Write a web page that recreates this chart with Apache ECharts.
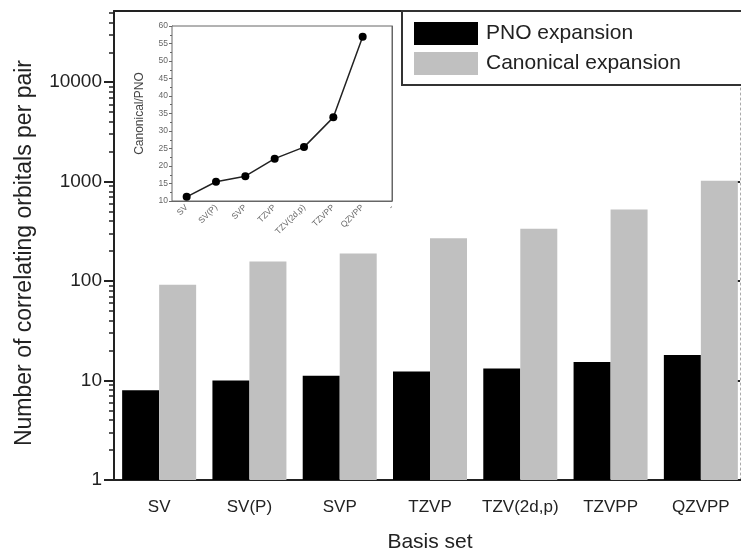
<!DOCTYPE html>
<html>
<head>
<meta charset="utf-8">
<script src="https://cdn.jsdelivr.net/npm/echarts@6/dist/echarts.min.js"></script>
<style>
html,body{margin:0;padding:0;background:#fff;}
#chart{width:741px;height:552px;}
</style>
</head>
<body>
<div id="chart"></div>
<script>
const categories = ['SV', 'SV(P)', 'SVP', 'TZVP', 'TZV(2d,p)', 'TZVPP', 'QZVPP'];
const pnoValues = [8, 10, 11.2, 12.3, 13.2, 15.4, 18.1];
const canonicalValues = [92, 157, 190, 269, 337, 524, 1020];
const ratioValues = [11.2, 15.5, 17.1, 22.1, 25.4, 33.9, 56.9];
const insetLabels = ['SV', 'SV(P)', 'SVP', 'TZVP', 'TZV(2d,p)', 'TZVPP', 'QZVPP', '-'];
const majorTicks = [1, 10, 100, 1000, 10000];
const minorTicks = [2, 3, 4, 5, 6, 7, 8, 9, 20, 30, 40, 50, 60, 70, 80, 90,
  200, 300, 400, 500, 600, 700, 800, 900, 2000, 3000, 4000, 5000, 6000, 7000, 8000, 9000,
  20000, 30000, 40000, 50000];

const FONT = 'Liberation Sans';
const AX = '#222';
const IN = '#666';

const chart = echarts.init(document.getElementById('chart'), null, {renderer: 'canvas'});

const option = {
  animation: false,
  backgroundColor: '#fff',
  textStyle: {fontFamily: FONT},
  grid: [
    {left: 114, top: 11, width: 632, height: 469, show: false, containLabel: false, outerBoundsMode: 'none'},
    {left: 172, top: 26, width: 220, height: 175, show: true, backgroundColor: '#fff', borderColor: IN, borderWidth: 1, z: 5,
      containLabel: false, outerBoundsMode: 'none'}
  ],
  legend: {
    left: 402, top: 11,
    orient: 'vertical',
    padding: [11, 80, 10, 12],
    itemWidth: 64, itemHeight: 23, itemGap: 7,
    icon: 'rect',
    borderColor: '#333', borderWidth: 2, backgroundColor: '#fff',
    textStyle: {fontSize: 21, color: AX, fontFamily: FONT, padding: [0, 0, 0, 3]},
    itemStyle: {borderWidth: 0},
    z: 10,
    data: ['PNO expansion', 'Canonical expansion']
  },
  xAxis: [
    {
      type: 'category', gridIndex: 0, data: categories, position: 'bottom',
      axisLine: {lineStyle: {color: AX, width: 2}},
      axisTick: {alignWithLabel: true, interval: 0, length: 8, lineStyle: {color: AX, width: 2}},
      axisLabel: {interval: 0, margin: 19, fontSize: 17, color: AX, fontFamily: FONT},
      name: 'Basis set', nameLocation: 'middle', nameGap: 52,
      nameTextStyle: {fontSize: 21, color: AX, fontFamily: FONT}
    },
    {
      type: 'category', gridIndex: 0, data: categories, position: 'bottom',
      axisLine: {show: false},
      axisTick: {interval: 0, length: 5, lineStyle: {color: AX, width: 2}},
      axisLabel: {show: false}
    },
    {
      type: 'category', gridIndex: 0, data: categories, position: 'top',
      axisLine: {lineStyle: {color: AX, width: 2}},
      axisTick: {inside: true, interval: 0, alignWithLabel: true, length: 9, lineStyle: {color: AX, width: 2}},
      axisLabel: {show: false}
    },
    {
      type: 'category', gridIndex: 0, data: categories, position: 'top',
      axisLine: {show: false},
      axisTick: {inside: true, interval: 0, length: 5, lineStyle: {color: AX, width: 2}},
      axisLabel: {show: false}
    },
    {
      type: 'value', gridIndex: 1, min: 0.5, max: 8, interval: 0.5, position: 'bottom',
      axisLine: {lineStyle: {color: IN, width: 1}},
      axisTick: {inside: true, length: 3, lineStyle: {color: IN}},
      splitLine: {show: false},
      axisLabel: {
        rotate: 45, fontSize: 8.5, color: IN, margin: 5, fontFamily: FONT,
        showMinLabel: false,
        formatter: function (v) { return Number.isInteger(v) ? insetLabels[v - 1] : ''; }
      }
    },
    {
      type: 'value', gridIndex: 1, min: 0.5, max: 8, interval: 0.5, position: 'top',
      axisLine: {lineStyle: {color: IN, width: 1}},
      axisTick: {inside: true, length: 3, lineStyle: {color: IN}},
      splitLine: {show: false},
      axisLabel: {show: false}
    }
  ],
  yAxis: [
    {
      type: 'log', logBase: 10, gridIndex: 0, min: 1, max: 52000, position: 'left',
      axisLine: {show: true, lineStyle: {color: AX, width: 2}},
      axisTick: {show: true, length: 10, customValues: majorTicks, lineStyle: {color: AX, width: 2}},
      axisLabel: {customValues: majorTicks, fontSize: 19, color: AX, margin: 12, fontFamily: FONT,
        formatter: function (v) { return String(Math.round(v)); }},
      splitLine: {show: false}
    },
    {
      type: 'log', logBase: 10, gridIndex: 0, min: 1, max: 52000, position: 'left',
      axisLine: {show: false},
      axisTick: {show: true, length: 5, customValues: minorTicks, lineStyle: {color: AX, width: 1.5}},
      axisLabel: {show: false},
      splitLine: {show: false}
    },
    {
      type: 'log', logBase: 10, gridIndex: 0, min: 1, max: 52000, position: 'right', offset: -6,
      axisLine: {show: true, lineStyle: {color: '#aaa', width: 1, type: [2, 3]}},
      axisTick: {show: true, inside: true, length: 4, customValues: majorTicks, lineStyle: {color: AX, width: 2}},
      axisLabel: {show: false},
      splitLine: {show: false}
    },
    {
      type: 'value', gridIndex: 1, min: 10, max: 60, interval: 5, position: 'left',
      axisLine: {lineStyle: {color: IN, width: 1}},
      axisTick: {length: 3, lineStyle: {color: IN}},
      minorTick: {show: true, splitNumber: 2, length: 2, lineStyle: {color: IN}},
      axisLabel: {fontSize: 8.5, color: IN, margin: 4, fontFamily: FONT},
      splitLine: {show: false},
      name: 'Canonical/PNO', nameLocation: 'middle', nameGap: 26,
      nameTextStyle: {fontSize: 12, color: '#444', fontFamily: FONT}
    },
    {
      type: 'value', gridIndex: 1, min: 10, max: 60, interval: 5, position: 'right',
      axisLine: {lineStyle: {color: IN, width: 1}},
      axisTick: {inside: true, length: 3, lineStyle: {color: IN}},
      minorTick: {show: true, splitNumber: 2, length: 2, lineStyle: {color: IN}},
      axisLabel: {show: false},
      splitLine: {show: false}
    }
  ],
  graphic: [
    {
      type: 'text', x: 25, y: 253, rotation: Math.PI / 2,
      style: {text: 'Number of correlating orbitals per pair', font: '23px "Liberation Sans"', fill: AX,
        textAlign: 'center', textVerticalAlign: 'middle'},
      z: 20
    }
  ],
  series: [
    {
      name: 'PNO expansion', type: 'bar', xAxisIndex: 0, yAxisIndex: 0,
      data: pnoValues, barWidth: 37, barGap: '0%',
      itemStyle: {color: '#000'}
    },
    {
      name: 'Canonical expansion', type: 'bar', xAxisIndex: 0, yAxisIndex: 0,
      data: canonicalValues, barWidth: 37, barGap: '0%',
      itemStyle: {color: '#c0c0c0'}
    },
    {
      name: 'ratio', type: 'line', xAxisIndex: 4, yAxisIndex: 3,
      data: ratioValues.map(function (v, i) { return [i + 1, v]; }),
      symbol: 'circle', symbolSize: 8,
      lineStyle: {color: '#222', width: 1.5},
      itemStyle: {color: '#000'},
      z: 6
    }
  ]
};
chart.setOption(option);
</script>
</body>
</html>
